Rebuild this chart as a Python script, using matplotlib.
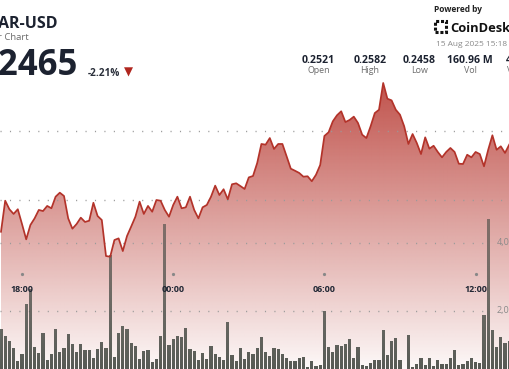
import numpy as np
import matplotlib
matplotlib.use('Agg')
import matplotlib.pyplot as plt
from matplotlib.path import Path
from matplotlib.patches import Rectangle
import matplotlib.transforms as mtransforms
from datetime import datetime, timedelta

plt.rcParams['font.family'] = ['Open Sans', 'DejaVu Sans']

# ---------------- data ----------------
start_time = datetime(2025, 8, 14, 17, 10)
step_minutes = 10

price = [0.24770, 0.24995, 0.24933, 0.24899, 0.24933, 0.24826, 0.24715, 0.24819, 0.24867, 0.24928,
         0.24920, 0.24957, 0.24940, 0.25024, 0.25053, 0.25029, 0.24867, 0.24792, 0.24826, 0.24872,
         0.24841, 0.24850, 0.24980, 0.24884, 0.24855, 0.24594, 0.24589, 0.24710, 0.24722, 0.24630,
         0.24739, 0.24808, 0.24879, 0.24988, 0.24899, 0.24957, 0.24915, 0.25000, 0.24995, 0.24928,
         0.24879, 0.24964, 0.25024, 0.24940, 0.24947, 0.25024, 0.24928, 0.24867, 0.24947, 0.24964,
         0.25024, 0.25104, 0.25036, 0.25078, 0.25005, 0.25114, 0.25121, 0.25101, 0.25080, 0.25164,
         0.25174, 0.25268, 0.25406, 0.25401, 0.25449, 0.25370, 0.25406, 0.25406, 0.25317, 0.25227,
         0.25212, 0.25196, 0.25169, 0.25172, 0.25136, 0.25183, 0.25254, 0.25464, 0.25491, 0.25570,
         0.25614, 0.25643, 0.25565, 0.25580, 0.25604, 0.25558, 0.25473, 0.25449, 0.25534, 0.25630,
         0.25654, 0.25848, 0.25734, 0.25722, 0.25654, 0.25618, 0.25534, 0.25406, 0.25478, 0.25413,
         0.25333, 0.25454, 0.25372, 0.25393, 0.25348, 0.25309, 0.25348, 0.25377, 0.25348, 0.25263,
         0.25261, 0.25328, 0.25309, 0.25348, 0.25333, 0.25244, 0.25364, 0.25469, 0.25364, 0.25389,
         0.25341, 0.25401]

volume_m = [1.46, 1.26, 1.12, 0.90, 0.53, 0.74, 2.20, 2.65, 0.94, 0.77,
            1.34, 0.55, 0.74, 1.46, 0.78, 0.90, 1.33, 1.04, 0.80, 1.04,
            0.84, 0.84, 0.61, 0.88, 1.08, 0.90, 3.65, 0.66, 1.34, 1.57,
            1.46, 1.05, 0.97, 0.59, 0.81, 0.84, 0.49, 0.60, 1.26, 4.57,
            0.99, 1.19, 1.26, 1.23, 1.51, 0.88, 0.83, 0.57, 0.76, 0.59,
            0.97, 0.73, 0.64, 0.55, 1.67, 0.70, 0.53, 0.90, 0.58, 0.80,
            0.74, 0.92, 1.23, 0.80, 0.69, 0.90, 0.89, 0.74, 0.61, 0.53,
            0.54, 0.63, 0.66, 0.36, 0.54, 0.37, 0.41, 2.00, 0.93, 0.78,
            1.00, 0.96, 1.03, 1.17, 0.63, 0.93, 0.40, 0.37, 0.46, 0.56,
            0.57, 1.44, 0.70, 1.13, 1.21, 0.56, 0.25, 1.29, 0.34, 0.44,
            0.61, 0.41, 0.63, 0.38, 0.56, 0.43, 0.43, 0.61, 0.84, 0.40,
            0.45, 0.53, 0.63, 0.51, 0.47, 1.88, 4.71, 1.43, 0.93, 1.24,
            1.07, 1.12]

price_grid = [0.250, 0.255]
volume_grid = [2.0, 4.0]
volume_grid_labels = ['2,000,000', '4,000,000']

header_symbol = 'AR-USD'
header_sub = '24 Hour Chart'
header_price = '0.2465'
header_change = '-2.21%'
stat_values = ['0.2521', '0.2582', '0.2458', '160.96 M', '40.24 M']
stat_labels = ['Open', 'High', 'Low', 'Vol', 'Vol (USD)']
date_text = '15 Aug 2025 15:18 UTC'

# ---------------- figure ----------------
W, H = 510, 369
fig = plt.figure(figsize=(W / 100, H / 100), dpi=100)
fig.patch.set_facecolor('white')

n = len(price)
x = np.arange(n)
times = [start_time + timedelta(minutes=step_minutes * i) for i in range(n)]

xlim = (-1 / 4.2, -1 / 4.2 + W / 4.2)
p_ylim = (0.25 - 169 / 13800, 0.25 + 200 / 13800)
v_ylim = ((379 - 369) / 34, 379 / 34)

def setup(a):
    a.set_xlim(*xlim)
    for s in a.spines.values():
        s.set_visible(False)
    a.tick_params(left=False, bottom=False, right=False, top=False,
                  labelleft=False, labelbottom=False, labelright=False)
    a.patch.set_alpha(0)

ax = fig.add_axes([0, 0, 1, 1])
ax.set_ylim(*p_ylim)
setup(ax)
ax.patch.set_facecolor('white')
ax.patch.set_alpha(1)

# price fill gradient
rows = np.arange(H)
alpha = np.clip(0.83 * (380 - rows) / 297.0, 0, 0.83)
base = np.array([180, 48, 40]) / 255.0
img = np.zeros((H, 2, 4))
img[:, :, :3] = base
img[:, :, 3] = alpha[:, None]
poly = ax.fill_between(x, price, p_ylim[0], facecolor='none', edgecolor='none')
im = ax.imshow(img, extent=(xlim[0], xlim[1], p_ylim[0], p_ylim[1]), aspect='auto',
               origin='upper', interpolation='bilinear', zorder=1)
im.set_clip_path(poly.get_paths()[0], transform=ax.transData)
ax.set_xlim(*xlim)
ax.set_ylim(*p_ylim)

# price gridlines
for g in price_grid:
    ax.axhline(g, color='#9a9a9a', linewidth=1.0, linestyle=(0, (0.8, 6.0)), zorder=2)

# volume axes
axv = fig.add_axes([0, 0, 1, 1])
setup(axv)
axv.set_ylim(*v_ylim)
for g, lab in zip(volume_grid, volume_grid_labels):
    axv.axhline(g, xmax=488 / W, color='#9a9a9a', linewidth=1.0, linestyle=(0, (0.8, 6.0)), zorder=1)
    axv.text(497 / W, g, lab, transform=mtransforms.blended_transform_factory(axv.transAxes, axv.transData),
             ha='left', va='center', fontsize=6.5, color='#8a8a8a')

bars = axv.bar(x, volume_m, width=0.8, color='none', edgecolor='none')
bpath = Path.make_compound_path(*[b.get_path().transformed(b.get_patch_transform()) for b in bars])
balpha = np.clip(0.62 + 0.30 * (rows - 219) / 150.0, 0.55, 0.95)
bimg = np.zeros((H, 2, 4))
bimg[:, :, :3] = np.array([72, 76, 70]) / 255.0
bimg[:, :, 3] = balpha[:, None]
bim = axv.imshow(bimg, extent=(xlim[0], xlim[1], v_ylim[0], v_ylim[1]), aspect='auto',
                 origin='upper', interpolation='bilinear', zorder=2)
bim.set_clip_path(bpath, transform=axv.transData)
axv.set_xlim(*xlim)
axv.set_ylim(*v_ylim)

# price line on top
axl = fig.add_axes([0, 0, 1, 1])
setup(axl)
axl.set_ylim(*p_ylim)
axl.plot(x, price, color='#b3332a', linewidth=1.25, solid_joinstyle='round', zorder=3)

# time ticks
btrans = mtransforms.blended_transform_factory(axl.transData, axl.transAxes)
for i, t in enumerate(times):
    if t.minute == 0 and t.hour % 6 == 0:
        axl.plot([i], [1 - 274 / H], marker='o', markersize=1.3, color='#888888',
                 transform=btrans, clip_on=False)
        axl.text(i, 1 - 289 / H, t.strftime('%H:%M'), transform=btrans, ha='center', va='center',
                 fontsize=6.4, fontweight='bold', color='#1f2633', zorder=5)

# ---------------- header ----------------
def px(xp, yp):
    return xp / W, 1 - yp / H

dark = '#1c2230'
fig.text(*px(57.5, 28.3), header_symbol, ha='right', va='baseline', fontsize=11.5,
         fontweight='bold', color=dark)
fig.text(*px(28.5, 40.5), header_sub, ha='right', va='baseline', fontsize=6.8, color='#6b6b6b')
fig.text(*px(78.5, 75), header_price, ha='right', va='baseline', fontsize=25,
         fontweight='bold', color=dark)
fig.text(*px(88, 76), header_change, ha='left', va='baseline', fontsize=7.2,
         fontweight='bold', color='#2a2f3a')
fig.text(*px(128, 72.5), '\u25BC', ha='center', va='center', fontsize=8.5, color='#b0261e',
         family=['DejaVu Sans'])

fig.text(*px(434, 12), 'Powered by', ha='left', va='baseline', fontsize=6, fontweight='bold', color='#222222')
fig.add_artist(Rectangle(px(435, 32), 11 / W, 11 / H, transform=fig.transFigure, facecolor='none',
                         edgecolor='#111111', linewidth=2.2, linestyle=(0, (1.0, 0.6))))
fig.text(*px(450, 31.7), 'CoinDesk', ha='left', va='baseline', fontsize=9.3, fontweight='bold', color='#111111')
fig.text(*px(436, 46.5), date_text, ha='left', va='baseline', fontsize=6, color='#8a8a8a')

stat_x = [318.5, 370, 419.5, 470, 526]
for sx, v, l in zip(stat_x, stat_values, stat_labels):
    fig.text(*px(sx, 62.7), v, ha='center', va='baseline', fontsize=7.6, fontweight='bold', color=dark)
    fig.text(*px(sx, 73), l, ha='center', va='baseline', fontsize=6.4, color='#6b6b6b')

fig.savefig('out.png', dpi=100, facecolor='white')
